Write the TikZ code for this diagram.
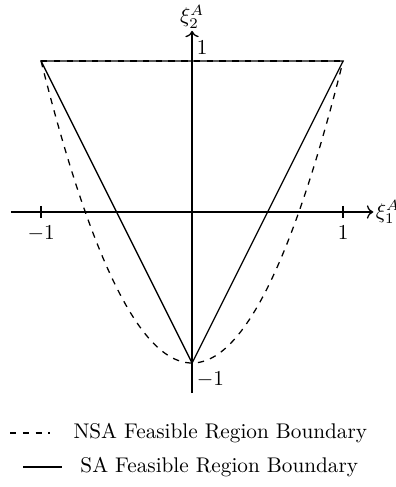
\documentclass[tikz,border=0pt]{standalone}
\usepackage{amsmath, amssymb}
\usepackage{tikz}
\usetikzlibrary{positioning, arrows.meta}
\tikzset{%
  eje/.style   ={-{To[length=3pt]}, line width=0.6pt},
  nsa/.style   ={dashed, line width=0.6pt},
  sa/.style    ={line width=0.6pt},
  tick/.style  ={line width=0.6pt},
  leyenda/.style={anchor=west, inner sep=0pt, font=\normalsize}
}
\begin{document}
\begin{tikzpicture}[x=2.5cm, y=2.5cm]
  \useasboundingbox (-1.272,-1.821) rectangle (1.344,1.404);
  % ejes
  \node (x1) at (1.2,0) [anchor=west, inner sep=1pt] {$\xi_1^A$};
  \node (x2) at (0,1.2) [anchor=south, inner sep=1pt] {$\xi_2^A$};
  \coordinate (xl) at (-1.2,0);
  \coordinate (yb) at (0,-1.2);
  \draw[eje] (xl) -- (x1.west);
  \draw[eje] (yb) -- (x2.south);
  % marcas
  \coordinate (A) at (-1,1);
  \coordinate (B) at (1,1);
  \coordinate (C) at (0,-1);
  \foreach \x in {-1,1}{\draw[tick] (\x,0.04)--(\x,-0.04);}
  \node[below=0pt] at (-1,-0.04) {$-1$};
  \node[below=0pt] at (1,-0.04) {$1$};
  \node[anchor=south west, inner sep=2pt] at (0,1.01) {$1$};
  \node[anchor=north west, inner sep=2pt] at (0,-1.03) {$-1$};
  % regiones
  \draw[nsa] plot[domain=-1:1, samples=60, smooth] (\x,{2*\x*\x-1});
  \draw[nsa] (A) -- (B);
  \draw[sa] (A) -- (B) -- (C) -- cycle;
  % leyenda
  \coordinate (l1a) at (-1.205,-1.464);
  \coordinate (l1b) at (-0.94,-1.464);
  \coordinate (l2a) at (-1.119,-1.689);
  \coordinate (l2b) at (-0.861,-1.689);
  \draw[nsa] (l1a) -- (l1b);
  \draw[sa] (l2a) -- (l2b);
  \node[leyenda] (t1) at (-0.788,-1.464) {NSA Feasible Region Boundary};
  \node[leyenda] (t2) at (-0.742,-1.689) {SA Feasible Region Boundary};
\end{tikzpicture}
\end{document}
